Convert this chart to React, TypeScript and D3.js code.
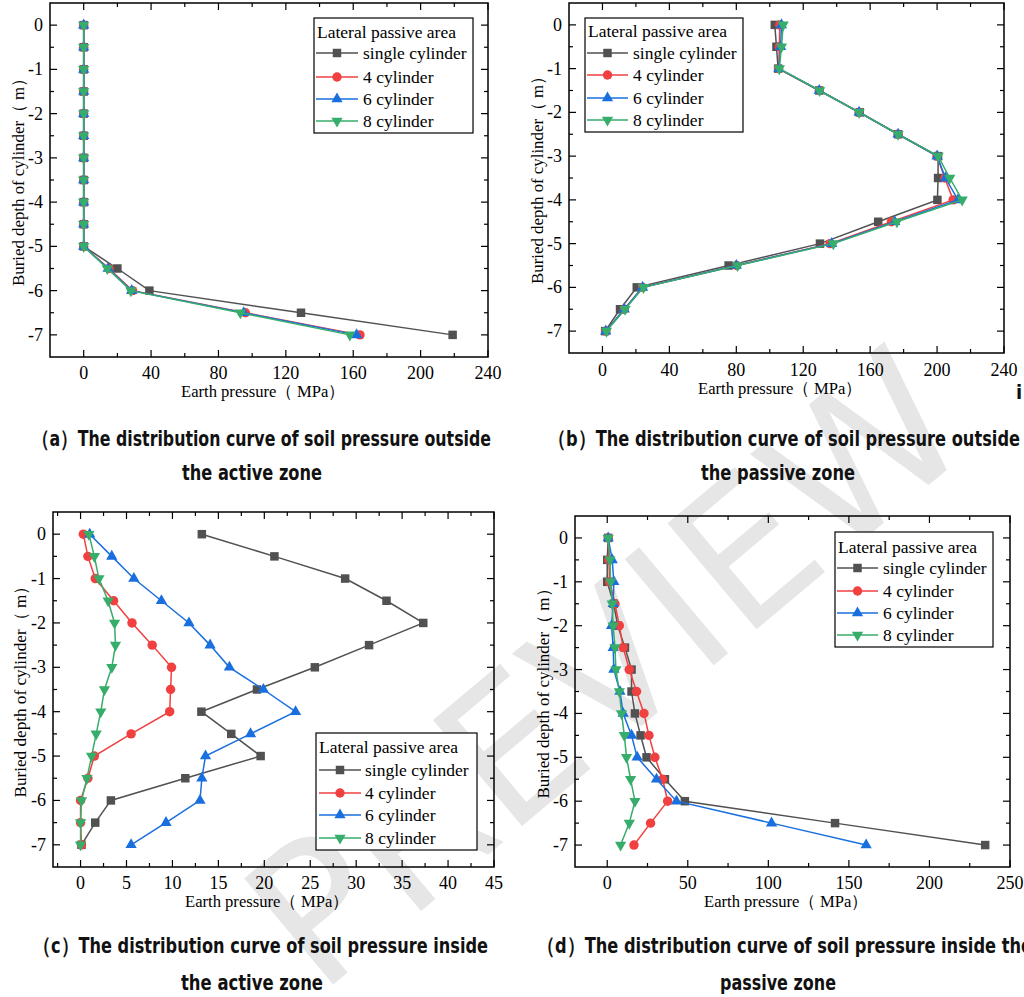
import React from "react";
import * as d3 from "d3";

// ---------- DATA ----------
const depths = [0, -0.5, -1, -1.5, -2, -2.5, -3, -3.5, -4, -4.5, -5, -5.5, -6, -6.5, -7];
const seriesNames = ["single cylinder", "4 cylinder", "6 cylinder", "8 cylinder"];
const legendTitle = "Lateral passive area";

const aSingle = [0, 0, 0, 0, 0, 0, 0, 0, 0, 0, 0, 20, 39, 129, 219];
const aFour = [0, 0, 0, 0, 0, 0, 0, 0, 0, 0, 0, 15, 29, 96, 164];
const aSix = [0, 0, 0, 0, 0, 0, 0, 0, 0, 0, 0, 14.5, 28.5, 95, 162];
const aEight = [0, 0, 0, 0, 0, 0, 0, 0, 0, 0, 0, 14, 28, 93, 158];

const bSingle = [103, 104, 105, 129.6, 153.8, 176.7, 200.6, 200.6, 200.2, 164.8, 130, 75.4, 20.5, 10.5, 1.6];
const bFour = [106, 105.7, 105.3, 129.6, 153.4, 176.7, 200, 204.6, 209.6, 172.7, 136, 80.2, 24, 13, 2];
const bSix = [107, 106.5, 105.5, 129.6, 153.4, 176.7, 200, 205, 212.5, 174.7, 137, 80, 24, 13, 2];
const bEight = [108, 107, 105.7, 129.8, 153.4, 176.7, 200.6, 207.6, 215, 176, 138, 80.8, 24.5, 13.5, 2.4];

const cSingle = [13.2, 21.1, 28.8, 33.3, 37.3, 31.4, 25.5, 19.2, 13.15, 16.4, 19.6, 11.4, 3.3, 1.6, 0.1];
const cFour = [0.3, 0.8, 1.6, 3.6, 5.6, 7.8, 9.9, 9.8, 9.7, 5.5, 1.5, 0.8, 0, 0, 0.1];
const cSix = [1.0, 3.4, 5.8, 8.8, 11.8, 14.1, 16.2, 19.9, 23.4, 18.5, 13.6, 13.2, 13.0, 9.3, 5.5];
const cEight = [0.9, 1.5, 2.0, 3.0, 3.7, 3.8, 3.4, 2.6, 2.2, 1.7, 1.2, 0.7, 0.1, 0, 0];

const dSingle = [0.6, 0, 0, 4, 6.5, 11, 15.1, 15.1, 17.2, 20.7, 24.4, 35.8, 48.2, 141.4, 234.6];
const dFour = [0.6, 1, 1.5, 4.8, 7.5, 9.9, 13.7, 18.2, 22.8, 25.9, 29.6, 34.4, 37.5, 26.9, 16.6];
const dSix = [0.6, 3.1, 4.1, 3.7, 2.7, 3.7, 4.1, 7.9, 9.9, 15.1, 18.6, 30.6, 43, 102, 160.7];
const dEight = [0.6, 1.7, 2.1, 3.1, 3.7, 4.8, 5.4, 7.5, 8.9, 10.6, 12, 14.5, 17.2, 13.7, 8.3];

const yTicks = [0, -1, -2, -3, -4, -5, -6, -7];
const abXTicks = [0, 40, 80, 120, 160, 200, 240];
const cXTicks = [0, 5, 10, 15, 20, 25, 30, 35, 40, 45];
const dXTicks = [0, 50, 100, 150, 200, 250];

const xTitle = "Earth pressure（ MPa）";
const yTitle = "Buried depth of cylinder（ m）";

const captionA = ["（a）The distribution curve of soil pressure outside", "the active zone"];
const captionB = ["（b）The distribution curve of soil pressure outside", "the passive zone"];
const captionC = ["（c）The distribution curve of soil pressure inside", "the active zone"];
const captionD = ["（d）The distribution curve of soil pressure inside the", "passive zone"];

// ---------- STYLE / LAYOUT ----------
const colors = ["#515151", "#F14040", "#1A6FDF", "#37AD6B"];
const serif = "'Liberation Serif', 'Times New Roman', serif";
const capFont = "'Liberation Sans Narrow', 'DejaVu Sans Condensed', 'Noto Sans', sans-serif";

const symbols = [
  d3.symbol().type(d3.symbolSquare).size(72)(),
  d3.symbol().type(d3.symbolCircle).size(70)(),
  d3.symbol().type(d3.symbolTriangle).size(55)(),
  d3.symbol().type(d3.symbolTriangle).size(55)(),
];
const symRot = [0, 0, 0, 180];

interface PanelCfg {
  x0: number; x1: number; y0: number; y1: number;
  xDomain: [number, number]; xTicks: number[]; xMinorStep: number;
  series: number[][];
  legend: { x0: number; x1: number; y0: number; y1: number; titleY: number; rows: number[]; lx0: number; lx1: number; tx: number };
  yTitleX: number; yTitleLen: number;
  xLabelY: number; xTitleY: number; xTitleCx: number;
}

const panels: PanelCfg[] = [
  {
    x0: 50, x1: 488, y0: 3, y1: 357, xDomain: [-20, 240], xTicks: abXTicks, xMinorStep: 20,
    series: [aSingle, aFour, aSix, aEight],
    legend: { x0: 314, x1: 473, y0: 18, y1: 133, titleY: 32, rows: [53, 77, 99, 121], lx0: 316, lx1: 358, tx: 363 },
    yTitleX: 24, yTitleLen: 216, xLabelY: 379, xTitleY: 397, xTitleCx: 263,
  },
  {
    x0: 569, x1: 1004, y0: 3, y1: 353, xDomain: [-20, 240], xTicks: abXTicks, xMinorStep: 20,
    series: [bSingle, bFour, bSix, bEight],
    legend: { x0: 585, x1: 743, y0: 18, y1: 132, titleY: 31, rows: [53, 75, 98, 120], lx0: 587, lx1: 628, tx: 633 },
    yTitleX: 543, yTitleLen: 216, xLabelY: 376, xTitleY: 394, xTitleCx: 780,
  },
  {
    x0: 53, x1: 494, y0: 512, y1: 867, xDomain: [-3, 45], xTicks: cXTicks, xMinorStep: 2.5,
    series: [cSingle, cFour, cSix, cEight],
    legend: { x0: 316, x1: 477, y0: 733, y1: 850, titleY: 747, rows: [770, 793, 815, 838], lx0: 319, lx1: 361, tx: 365 },
    yTitleX: 26, yTitleLen: 220, xLabelY: 889, xTitleY: 907, xTitleCx: 267,
  },
  {
    x0: 575, x1: 1010, y0: 516, y1: 867, xDomain: [-20, 250], xTicks: dXTicks, xMinorStep: 25,
    series: [dSingle, dFour, dSix, dEight],
    legend: { x0: 835, x1: 993, y0: 532, y1: 647, titleY: 547, rows: [568, 591, 613, 635], lx0: 837, lx1: 878, tx: 883 },
    yTitleX: 549, yTitleLen: 218, xLabelY: 889, xTitleY: 907, xTitleCx: 786,
  },
];

function Panel({ p }: { p: PanelCfg }) {
  const x = d3.scaleLinear().domain(p.xDomain).range([p.x0, p.x1]);
  const y = d3.scaleLinear().domain([0.5, -7.5]).range([p.y0, p.y1]);
  const line = d3.line<number>().x((v) => x(v)).y((_, i) => y(depths[i]));
  const minorX = d3.range(Math.ceil(p.xDomain[0] / p.xMinorStep) * p.xMinorStep, p.xDomain[1] + 1e-9, p.xMinorStep)
    .filter((v) => !p.xTicks.some((t) => Math.abs(t - v) < 1e-9) && v > p.xDomain[0] + 1e-9 && v < p.xDomain[1] - 1e-9);
  const minorY = d3.range(0.5, -7.5, -1).filter((v) => v < 0.5 - 1e-9 && v > -7.5 + 1e-9);
  const major = 7, minor = 4;
  const cyTitle = (p.y0 + p.y1) / 2 - 2;
  const L = p.legend;
  return (
    <g>
      {p.series.map((s, si) => (
        <g key={si}>
          <path d={line(s) || ""} fill="none" stroke={colors[si]} strokeWidth={1.5} />
          {s.map((v, i) => (
            <path key={i} d={symbols[si]} fill={colors[si]}
              transform={`translate(${x(v)},${y(depths[i])}) rotate(${symRot[si]})`} />
          ))}
        </g>
      ))}
      <rect x={p.x0} y={p.y0} width={p.x1 - p.x0} height={p.y1 - p.y0} fill="none" stroke="#000" strokeWidth={1.5} />
      {p.xTicks.map((t) => (
        <g key={"xt" + t}>
          <line x1={x(t)} x2={x(t)} y1={p.y1} y2={p.y1 - major} stroke="#000" strokeWidth={1.2} />
          <line x1={x(t)} x2={x(t)} y1={p.y0} y2={p.y0 + major} stroke="#000" strokeWidth={1.2} />
          <text x={x(t)} y={p.xLabelY} textAnchor="middle" fontFamily={serif} fontSize={18} fill="#000">{t}</text>
        </g>
      ))}
      {minorX.map((t) => (
        <g key={"xm" + t}>
          <line x1={x(t)} x2={x(t)} y1={p.y1} y2={p.y1 - minor} stroke="#000" strokeWidth={1.2} />
          <line x1={x(t)} x2={x(t)} y1={p.y0} y2={p.y0 + minor} stroke="#000" strokeWidth={1.2} />
        </g>
      ))}
      {yTicks.map((t) => (
        <g key={"yt" + t}>
          <line x1={p.x0} x2={p.x0 + major} y1={y(t)} y2={y(t)} stroke="#000" strokeWidth={1.2} />
          <line x1={p.x1} x2={p.x1 - major} y1={y(t)} y2={y(t)} stroke="#000" strokeWidth={1.2} />
          <text x={p.x0 - 7} y={y(t) + 6} textAnchor="end" fontFamily={serif} fontSize={18} fill="#000">{t}</text>
        </g>
      ))}
      {minorY.map((t) => (
        <g key={"ym" + t}>
          <line x1={p.x0} x2={p.x0 + minor} y1={y(t)} y2={y(t)} stroke="#000" strokeWidth={1.2} />
          <line x1={p.x1} x2={p.x1 - minor} y1={y(t)} y2={y(t)} stroke="#000" strokeWidth={1.2} />
        </g>
      ))}
      <text x={p.xTitleCx} y={p.xTitleY} textAnchor="middle" fontFamily={serif} fontSize={17} fill="#000"
        textLength={164} lengthAdjust="spacingAndGlyphs">{xTitle}</text>
      <text transform={`translate(${p.yTitleX},${cyTitle}) rotate(-90)`} textAnchor="middle" fontFamily={serif}
        fontSize={17} fill="#000" textLength={p.yTitleLen} lengthAdjust="spacingAndGlyphs">{yTitle}</text>
      <rect x={L.x0} y={L.y0} width={L.x1 - L.x0} height={L.y1 - L.y0} fill="#fff" stroke="#000" strokeWidth={1.2} />
      <text x={L.x0 + 3} y={L.titleY + 6} fontFamily={serif} fontSize={17.5} fill="#000">{legendTitle}</text>
      {seriesNames.map((n, si) => (
        <g key={n}>
          <line x1={L.lx0} x2={L.lx1} y1={L.rows[si]} y2={L.rows[si]} stroke={colors[si]} strokeWidth={1.5} />
          <path d={symbols[si]} fill={colors[si]}
            transform={`translate(${(L.lx0 + L.lx1) / 2},${L.rows[si]}) rotate(${symRot[si]})`} />
          <text x={L.tx} y={L.rows[si] + 6} fontFamily={serif} fontSize={17.5} fill="#000">{n}</text>
        </g>
      ))}
    </g>
  );
}

function Caption({ lines, x0, x1, y1, l2x0, l2x1, y2 }: { lines: string[]; x0: number; x1: number; y1: number; l2x0: number; l2x1: number; y2: number }) {
  return (
    <g fontFamily={capFont} fontWeight="bold" fontSize={22} fill="#111">
      <text x={x0} y={y1 + 8} textLength={x1 - x0} lengthAdjust="spacingAndGlyphs">{lines[0]}</text>
      <text x={l2x0} y={y2 + 8} textLength={l2x1 - l2x0} lengthAdjust="spacingAndGlyphs">{lines[1]}</text>
    </g>
  );
}

export default function App() {
  return (
    <svg width={1024} height={997} style={{ position: "absolute", left: 0, top: 0, background: "#fff" }}
      xmlns="http://www.w3.org/2000/svg">
      <rect x={0} y={0} width={1024} height={997} fill="#fff" />
      <text x={0} y={0} transform="translate(615,680) rotate(-40)" textAnchor="middle" dominantBaseline="middle"
        fontFamily="'DejaVu Sans', sans-serif" fontSize={190} fill="#d2d2d2" opacity={0.55}>PREVIEW</text>
      {panels.map((p, i) => <Panel key={i} p={p} />)}
      <Caption lines={captionA} x0={32} x1={491} y1={438} l2x0={182} l2x1={322} y2={472} />
      <Caption lines={captionB} x0={548} x1={1020} y1={438} l2x0={701} l2x1={855} y2={472} />
      <Caption lines={captionC} x0={33} x1={488} y1={945} l2x0={181} l2x1={323} y2={982} />
      <Caption lines={captionD} x0={537} x1={1032} y1={945} l2x0={720} l2x1={836} y2={982} />
      <text x={1016} y={399} fontFamily={capFont} fontWeight="bold" fontSize={20} fill="#111">i</text>
    </svg>
  );
}
